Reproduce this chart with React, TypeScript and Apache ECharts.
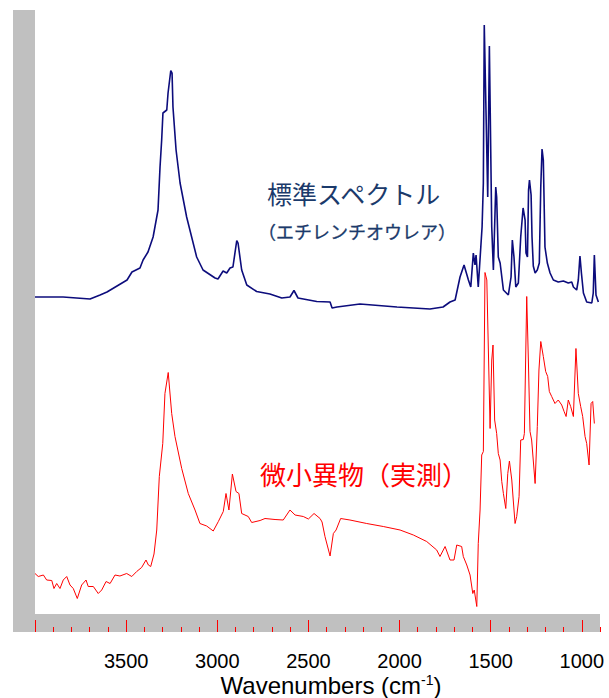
import React, { useEffect, useRef } from 'react';
import * as echarts from 'echarts';

// 標準スペクトル (エチレンチオウレア) — wavenumber (cm-1) and offset absorbance (arb. units)
const standardWavenumbers = [
  4000, 3846, 3698, 3643, 3605, 3495, 3468, 3424, 3407, 3380,
  3352, 3325, 3314, 3305, 3298, 3277, 3270, 3255, 3248, 3243,
  3226, 3204, 3168, 3113, 3078, 3012, 2996, 2968, 2948, 2930,
  2914, 2893, 2886, 2866, 2838, 2784, 2711, 2646, 2601, 2579,
  2557, 2454, 2381, 2370, 2343, 2217, 2014, 1833, 1761, 1723,
  1695, 1668, 1646, 1622, 1609, 1595, 1586, 1580, 1568, 1554,
  1547, 1540, 1535, 1516, 1507, 1494, 1485, 1472, 1467, 1458,
  1448, 1430, 1403, 1388, 1381, 1372, 1362, 1348, 1335, 1322,
  1311, 1306, 1298, 1292, 1287, 1278, 1273, 1266, 1256, 1244,
  1233, 1225, 1218, 1211, 1202, 1189, 1174, 1156, 1129, 1101,
  1074, 1055, 1046, 1028, 1019, 1010, 1002, 991, 973, 945,
  937, 931, 922, 909,
];
const standardValues = [
  67.0, 67.0, 66.6, 67.4, 68.0, 70.4, 72.0, 72.8, 74.4, 76.0,
  79.0, 84.4, 93.0, 98.4, 103.8, 104.4, 107.8, 112.3, 111.8, 105.0,
  96.4, 89.8, 83.0, 75.0, 72.4, 70.8, 70.6, 72.2, 71.8, 72.8,
  73.0, 78.3, 77.8, 72.4, 69.4, 68.1, 67.6, 66.8, 67.0, 68.3,
  66.8, 66.1, 66.0, 64.8, 65.0, 65.6, 65.0, 64.6, 65.0, 66.0,
  66.4, 71.0, 73.4, 70.4, 69.0, 75.8, 73.4, 75.4, 69.0, 77.0,
  81.0, 89.8, 121.4, 87.0, 117.2, 81.0, 72.4, 89.0, 87.0, 75.0,
  73.8, 68.4, 67.4, 71.0, 78.4, 75.0, 69.0, 69.8, 79.0, 84.8,
  82.4, 75.8, 75.0, 88.4, 90.4, 87.4, 79.0, 73.2, 71.8, 72.4,
  73.8, 89.0, 96.6, 94.4, 77.0, 73.8, 71.8, 70.4, 70.0, 70.2,
  69.8, 70.0, 69.0, 68.4, 70.4, 75.2, 71.8, 67.8, 66.0, 65.8,
  67.8, 75.4, 67.4, 66.0,
];

// 微小異物 (実測)
const sampleWavenumbers = [
  4000, 3982, 3954, 3936, 3908, 3896, 3881, 3863, 3845, 3826,
  3808, 3790, 3768, 3744, 3720, 3708, 3680, 3653, 3634, 3610,
  3588, 3561, 3534, 3497, 3469, 3442, 3415, 3391, 3378, 3365,
  3347, 3332, 3318, 3299, 3287, 3269, 3250, 3232, 3195, 3159,
  3122, 3095, 3058, 3022, 2994, 2967, 2952, 2936, 2917, 2897,
  2881, 2866, 2830, 2811, 2765, 2738, 2683, 2638, 2601, 2573,
  2528, 2500, 2469, 2436, 2425, 2409, 2381, 2363, 2348, 2323,
  2272, 2180, 2089, 1997, 1924, 1851, 1796, 1778, 1750, 1723,
  1701, 1686, 1659, 1650, 1631, 1613, 1598, 1590, 1576, 1568,
  1558, 1549, 1540, 1531, 1521, 1503, 1494, 1487, 1478, 1467,
  1458, 1448, 1439, 1430, 1417, 1406, 1397, 1384, 1376, 1366,
  1357, 1344, 1335, 1321, 1315, 1302, 1293, 1284, 1275, 1256,
  1244, 1235, 1225, 1211, 1198, 1187, 1178, 1165, 1147, 1129,
  1110, 1097, 1086, 1074, 1061, 1046, 1032, 1019, 1006, 995,
  982, 973, 960, 949, 940, 931,
];
const sampleValues = [
  11.7, 11.1, 11.4, 10.4, 10.3, 8.7, 9.7, 8.7, 10.4, 11.1,
  9.4, 8.7, 6.7, 9.4, 10.4, 9.1, 9.1, 7.7, 8.4, 10.1,
  9.7, 11.4, 11.2, 11.7, 11.1, 12.1, 12.9, 14.4, 13.4, 13.1,
  15.6, 20.4, 31.1, 37.7, 47.7, 51.9, 43.7, 39.1, 32.7, 27.7,
  24.4, 21.7, 21.2, 20.2, 22.1, 24.1, 27.7, 24.4, 31.6, 28.1,
  27.7, 23.7, 23.1, 21.9, 22.3, 22.7, 22.5, 22.4, 24.4, 23.4,
  23.1, 22.6, 23.7, 22.7, 22.0, 19.1, 15.2, 19.7, 20.4, 22.7,
  22.4, 21.7, 21.1, 20.4, 19.4, 18.1, 16.4, 15.1, 17.1, 14.4,
  14.4, 17.4, 17.1, 15.1, 13.4, 11.4, 7.7, 8.4, 5.1, 17.7,
  24.4, 35.4, 36.1, 71.9, 70.4, 40.7, 54.4, 57.4, 42.4, 39.7,
  35.7, 34.4, 30.1, 27.7, 24.7, 31.7, 34.2, 30.4, 26.4, 21.7,
  23.1, 27.1, 38.4, 38.5, 39.7, 67.1, 54.4, 40.1, 38.4, 29.7,
  41.1, 52.4, 58.1, 55.1, 52.1, 51.1, 48.1, 47.1, 45.7, 46.4,
  45.4, 44.1, 43.1, 46.4, 45.1, 43.1, 56.7, 47.7, 45.1, 43.1,
  39.1, 37.7, 33.4, 45.7, 46.1, 41.7,
];

const majorTickValues = [4000, 3500, 3000, 2500, 2000, 1500, 1000];
const minorTickValues = [
  3900, 3800, 3700, 3600, 3400, 3300, 3200, 3100, 2900, 2800, 2700, 2600,
  2400, 2300, 2200, 2100, 1900, 1800, 1700, 1600, 1400, 1300, 1200, 1100, 900,
];
const tickLabelValues = [3500, 3000, 2500, 2000, 1500, 1000];

const standardLabel = '標準スペクトル';
const standardSubLabel = '（エチレンチオウレア）';
const sampleLabel = '微小異物（実測）';
const axisTitle = 'Wavenumbers (cm{sup|-1})';

const zip = (xs: number[], ys: number[]) => xs.map((x, i) => [x, ys[i]]);

export default function App() {
  const ref = useRef<HTMLDivElement>(null);
  useEffect(() => {
    if (!ref.current) return;
    const chart = echarts.init(ref.current, null, { renderer: 'svg' });
    const latin = '"Liberation Sans", Arial, sans-serif';
    const cjk = '"Noto Sans CJK JP", sans-serif';
    chart.setOption({
      animation: false,
      backgroundColor: '#ffffff',
      grid: { left: 35, right: 9, top: 10, bottom: 66, containLabel: false, outerBoundsMode: 'none' },
      xAxis: [
        {
          type: 'value', min: 900, max: 4000, inverse: true, position: 'bottom', offset: 0,
          axisLine: { show: false }, splitLine: { show: false },
          axisTick: { show: true, inside: true, length: 12, customValues: majorTickValues, lineStyle: { color: '#ff0000', width: 1 } },
          axisLabel: {
            show: true, customValues: tickLabelValues, margin: 19, fontSize: 20, fontFamily: latin, color: '#000000',
            formatter: (v: number) => String(v),
          },
        },
        {
          type: 'value', min: 900, max: 4000, inverse: true, position: 'bottom', offset: 0,
          axisLine: { show: false }, splitLine: { show: false },
          axisTick: { show: true, inside: true, length: 5, customValues: minorTickValues, lineStyle: { color: '#ff0000', width: 1 } },
          axisLabel: { show: false },
        },
      ],
      yAxis: { type: 'value', min: 0, max: 124.4, show: false },
      series: [
        {
          type: 'line', xAxisIndex: 0, data: zip(standardWavenumbers, standardValues),
          symbol: 'none', lineStyle: { color: '#0c0c7c', width: 1.6 }, z: 3,
        },
        {
          type: 'line', xAxisIndex: 0, data: zip(sampleWavenumbers, sampleValues),
          symbol: 'none', lineStyle: { color: '#ff0000', width: 1 }, z: 3,
        },
      ],
      graphic: [
        { type: 'rect', z: -1, silent: true, shape: { x: 13, y: 10, width: 22, height: 622 }, style: { fill: '#c0c0c0' } },
        { type: 'rect', z: -1, silent: true, shape: { x: 35, y: 614, width: 565, height: 18 }, style: { fill: '#c0c0c0' } },
        { type: 'text', x: 267, y: 193, style: { text: standardLabel, fontSize: 25, fontFamily: cjk, fill: '#1b3a6b', align: 'left', verticalAlign: 'middle' } },
        { type: 'text', x: 258, y: 231, style: { text: standardSubLabel, fontSize: 18, fontFamily: cjk, fill: '#1b3a6b', stroke: '#1b3a6b', lineWidth: 0.3, align: 'left', verticalAlign: 'middle' } },
        { type: 'text', x: 260, y: 473, style: { text: sampleLabel, fontSize: 26, fontFamily: cjk, fill: '#ff0000', align: 'left', verticalAlign: 'middle' } },
        {
          type: 'text', x: 331, y: 685,
          style: {
            text: axisTitle, fontSize: 24, fontFamily: latin, fill: '#000000', align: 'center', verticalAlign: 'middle',
            rich: { sup: { fontSize: 14, fontFamily: latin, fill: '#000000', verticalAlign: 'top' } },
          },
        },
      ],
    });
    return () => chart.dispose();
  }, []);
  return <div ref={ref} style={{ position: 'fixed', left: 0, top: 0, width: 609, height: 698 }} />;
}
